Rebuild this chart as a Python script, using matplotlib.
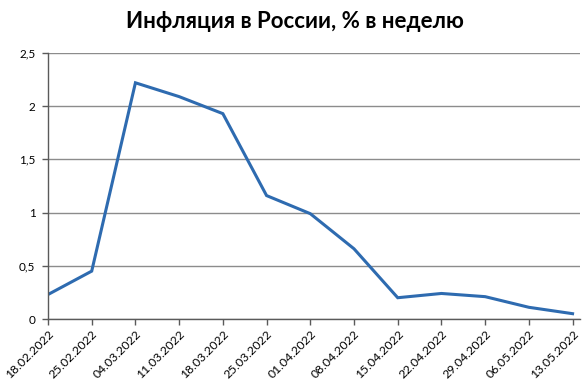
import matplotlib
matplotlib.use("Agg")
import matplotlib.pyplot as plt

dates = ["18.02.2022", "25.02.2022", "04.03.2022", "11.03.2022", "18.03.2022",
         "25.03.2022", "01.04.2022", "08.04.2022", "15.04.2022", "22.04.2022",
         "29.04.2022", "06.05.2022", "13.05.2022"]
values = [0.23, 0.45, 2.22, 2.09, 1.93, 1.16, 0.99, 0.66, 0.20, 0.24, 0.21, 0.11, 0.05]
yticks = [0, 0.5, 1, 1.5, 2, 2.5]
ylabels = ["0", "0,5", "1", "1,5", "2", "2,5"]
title = "Инфляция в России, % в неделю"

plt.rcParams['font.family'] = ['Lato', 'DejaVu Sans']

fig = plt.figure(figsize=(5.88, 3.88), dpi=100)
ax = fig.add_axes([48/588, 1-319/388, (580-48)/588, (319-53)/388])

x = list(range(len(dates)))
ax.plot(x, values, color="#2E6BB0", linewidth=2.2, solid_joinstyle='miter')

ax.set_ylim(0, 2.5)
ax.set_xlim(0, len(dates) - 1 + 0.17)
ax.set_yticks(yticks)
ax.set_yticklabels(ylabels, fontsize=8.5)
ax.set_xticks(x)
ax.set_xticklabels(dates, rotation=45, ha='right', rotation_mode='anchor', fontsize=8.8)

ax.grid(axis='y', color='#8C8C8C', linewidth=1.0)
ax.set_axisbelow(True)
for s in ['top', 'right']:
    ax.spines[s].set_visible(False)
for s in ['left', 'bottom']:
    ax.spines[s].set_color('#5A5A5A')
    ax.spines[s].set_linewidth(1.0)
ax.tick_params(axis='both', color='#5A5A5A', length=4, width=1.0, labelcolor='black')
ax.tick_params(axis='x', pad=3)
ax.tick_params(axis='y', pad=5)

fig.text(0.502, 1-22/388, title, ha='center', va='center', fontsize=16, fontweight='bold')

fig.savefig("out.png", dpi=100)
